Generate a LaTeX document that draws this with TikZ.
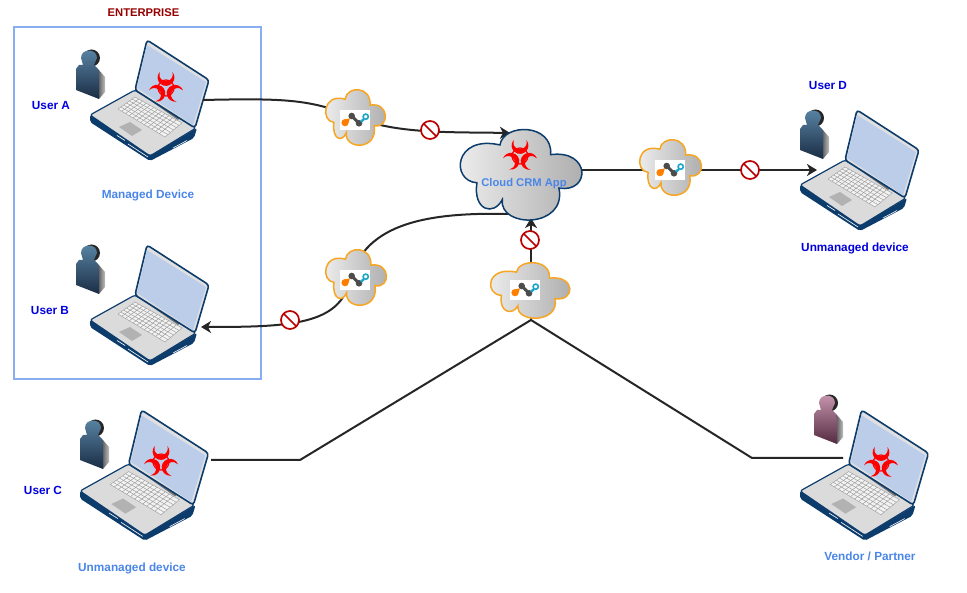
\documentclass[tikz,border=0pt]{standalone}
\usepackage{fontspec}
\setmainfont{Liberation Sans}
\usetikzlibrary{arrows.meta,calc}

\definecolor{frameblue}{HTML}{0C3C6C}
\definecolor{screenblue}{HTML}{BCCDE9}
\definecolor{labelblue}{HTML}{0000DD}
\definecolor{softblue}{HTML}{4A86E8}
\definecolor{boxblue}{HTML}{86AEF0}
\definecolor{stopred}{HTML}{BB0000}
\definecolor{cloudorange}{HTML}{F6A623}
\definecolor{keycyan}{HTML}{1CA6C8}
\definecolor{persA}{HTML}{5A86A6}
\definecolor{persADk}{HTML}{1A2C44}
\definecolor{persV}{HTML}{C898B0}
\definecolor{persVDk}{HTML}{542A40}

\tikzset{
  usertag/.style={font=\fontsize{11.8}{14}\selectfont\bfseries, text=labelblue, inner sep=0},
  softtag/.style={font=\fontsize{11.8}{14}\selectfont\bfseries, text=softblue, inner sep=0},
  conn/.style={line width=2pt, draw=black!85},
  tipped/.style={conn, -{Stealth[length=10pt,width=12pt,inset=3pt]}},
  forbid/.style={circle, draw=stopred, fill=white, line width=1.7pt, minimum size=18pt, inner sep=0,
    path picture={\draw[stopred, line width=1.7pt] (path picture bounding box.north west) -- (path picture bounding box.south east);}},
  % Laptop, origin at top left of its box
  laptop/.pic={
    \fill[frameblue, rounded corners=2pt] (0,75) -- (0,82) -- (60,121) -- (104,98) -- (107,88) -- (60,116) -- cycle;
    \draw[frameblue, fill=black!14, line width=1.2pt, rounded corners=2.5pt] (0,75) -- (45,50) -- (106,88) -- (60,116) -- cycle;
    \fill[black!55] (51,54) -- (54,52) -- (91,77) -- (88,80) -- cycle;
    \draw[frameblue, fill=black!12, line width=1.6pt, rounded corners=3pt] (57,0) -- (119,40) -- (105,88) -- (45,50) -- cycle;
    \fill[screenblue] (57,5) -- (116,42) -- (103,85) -- (47,48) -- cycle;
    \fill[black!5, draw=black!40, line width=.4pt] (28,69) -- (45,57) -- (92,83) -- (75,97) -- cycle;
    \foreach \t in {.17,.33,.5,.67,.83}
      \draw[black!40, line width=.45pt] ($(28,69)!\t!(45,57)$) -- ($(75,97)!\t!(92,83)$);
    \foreach \t in {.08,.16,...,.95}
      \draw[black!40, line width=.45pt] ($(28,69)!\t!(75,97)$) -- ($(45,57)!\t!(92,83)$);
    \fill[black!30] (29,87) -- (40,82) -- (52,90) -- (42,96) -- cycle;
    \draw[white, line width=.6pt] (27,95.5) -- (35,100.5);
    \draw[white, line width=.6pt] (38,104) -- (58,117);
    \draw[white, line width=.6pt] (83,108) -- (97,100.5);
  },
  % Person figure, head and body in colour #1
  person/.pic={
    \fill[black!85] (15.5,8) circle (8.5);
    \path[left color=black!65, right color=black!25] (22,19) -- (29,27) -- (29,42) -- (23,49) -- cycle;
    \path[top color=#1, bottom color=#1Dk] (0,19) -- (3,15) -- (7,15) -- (5,8) .. controls (5,-2) and (21,-2) .. (21,8) -- (18,15) -- (22,19) -- (23,25) -- (23,49) -- (0,40) -- cycle;
  },
  % Biohazard mark, centred
  biohaz/.pic={
    \foreach \a in {180,300,60}
      \fill[red, rotate=\a, scale=1.05] (6.14,15.125) arc[start angle=39.9, end angle=-219.9, radius=8]
        arc[start angle=160.9, end angle=379.1, radius=6.5] -- cycle;
    \draw[red, line width=1.2pt] (0,0) circle (8);
  },
  % Cloud outline in a 100 by 100 box
  puff/.pic={
    \path[draw=#1, line width=1.5pt, left color=black!6, right color=black!33]
      (33,17) .. controls (36,-8) and (78,-8) .. (76,28)
      .. controls (110,22) and (110,72) .. (83,66)
      .. controls (90,112) and (32,112) .. (35,79)
      .. controls (28,98) and (10,92) .. (13.5,60)
      .. controls (-9,58) and (-6,5) .. (33,17) -- cycle;
  },
  % Relay mark on a white tile, centred
  relaymark/.pic={
    \fill[white] (-15,-10) rectangle (15,10);
    \draw[black!70, line width=3pt, line cap=round] (-3.3,-4) -- (4,3.3);
    \fill[black!70] (-3.3,-4) circle (3.3) (4,3.3) circle (3.3);
    \draw[keycyan, line width=1.6pt] (10.7,-3.3) circle (2.6);
    \draw[keycyan, line width=2.4pt] (8.8,-0.8) -- (6,1.8);
    \fill[orange] (-10,2.7) circle (3.6);
    \fill[orange] (-12.5,0.2) -- (-5,-1.7) -- (-7.5,5.2) -- cycle;
  },
}

\begin{document}
\begin{tikzpicture}[x=1pt, y=-1pt]

    \useasboundingbox (0,0) rectangle (967,593);

    %% Enterprise box

    \node[font=\fontsize{11.2}{14}\selectfont\bfseries, text=stopred!80!black, inner sep=0] (entTitle) at (143.5,13) {ENTERPRISE};
    \node[draw=boxblue, line width=2.8pt, minimum width=247pt, minimum height=352pt, inner sep=0, outer sep=0, anchor=north west] (entBox) at (14,27) {};

    %% Devices

    % User A
    \pic (lapA) at (90,40) {laptop};
    \pic at (166,88) {biohaz};
    \pic (manA) at (76,50) {person=persA};
    \node[usertag] (tagA) at (51,106) {User A};
    \node[softtag] (tagManaged) at (148,195) {Managed Device};

    % User B
    \pic (lapB) at (90,245) {laptop};
    \pic (manB) at (76,245) {person=persA};
    \node[usertag] (tagB) at (50,311) {User B};

    % User C
    \pic[scale=1.08] (lapC) at (80,410) {laptop};
    \pic at (161,462) {biohaz};
    \pic (manC) at (80,420) {person=persA};
    \node[usertag] (tagC) at (43,490) {User C};
    \node[softtag] (tagUnC) at (132,568) {Unmanaged device};

    % User D
    \pic (lapD) at (800,110) {laptop};
    \pic (manD) at (800,110) {person=persA};
    \node[usertag] (tagD) at (828,86) {User D};
    \node[usertag] (tagUnD) at (855,248) {Unmanaged device};

    % Vendor
    \pic[scale=1.08] (lapV) at (800,410) {laptop};
    \pic at (881,463) {biohaz};
    \pic (manV) at (814,395) {person=persV};
    \node[softtag] (tagV) at (870,556) {Vendor / Partner};

    %% Connectors

    \coordinate (portA) at (203,100);
    \coordinate (portB) at (201,327);
    \coordinate (portC) at (211,460);
    \coordinate (portD) at (817,170);
    \coordinate (portV) at (843,458);
    \coordinate (relayA) at (355,117);
    \coordinate (relayB) at (350,280);
    \coordinate (relayD) at (670,170);
    \coordinate (relayS) at (531,290);
    \coordinate (crmIn) at (510,133);
    \coordinate (crmOut) at (512,214);
    \coordinate (crmEast) at (578,170);
    \coordinate (crmSouth) at (531,218);
    \coordinate (fork) at (531,320);
    \coordinate (bendC) at (300,460);
    \coordinate (bendV) at (752,458);

    \draw[tipped] (portA) .. controls (290,98) and (310,100) .. (relayA) .. controls (395,134) and (450,132) .. (crmIn);
    \draw[conn] (crmOut) .. controls (430,212) and (365,222) .. (relayB);
    \draw[tipped] (relayB) .. controls (340,325) and (290,327) .. (portB);
    \draw[tipped] (crmEast) -- (relayD) -- (portD);
    \draw[tipped] (fork) -- (relayS) -- (crmSouth);
    \draw[conn] (portC) -- (bendC) -- (fork) -- (bendV) -- (portV);

    %% Clouds

    \pic[xscale=1.18, yscale=.88] at (461,130) {puff=frameblue};
    \pic at (520,156) {biohaz};
    \node[softtag, font=\fontsize{11.2}{14}\selectfont\bfseries] (crm) at (524,184) {Cloud CRM App};

    \pic[xscale=.58, yscale=.54] at (326,90) {puff=cloudorange};
    \pic at (355,120) {relaymark};
    \pic[xscale=.59, yscale=.54] at (326,250) {puff=cloudorange};
    \pic at (355,280) {relaymark};
    \pic[xscale=.60, yscale=.54] at (640,140) {puff=cloudorange};
    \pic at (670,170) {relaymark};
    \pic[xscale=.77, yscale=.54] at (491,263) {puff=cloudorange};
    \pic at (525,290) {relaymark};

    %% Blocks

    \node[forbid] (stopA) at (430,130) {};
    \node[forbid] (stopB) at (290,320) {};
    \node[forbid] (stopD) at (750,170) {};
    \node[forbid] (stopS) at (530,240) {};

\end{tikzpicture}
\end{document}
